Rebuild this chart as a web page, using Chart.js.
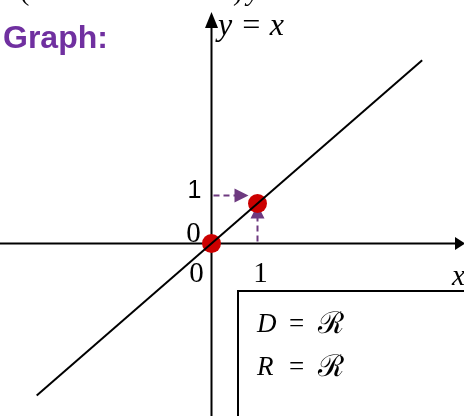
<!DOCTYPE html>
<html>
<head>
<meta charset="utf-8">
<script src="https://cdn.jsdelivr.net/npm/chart.js@4.4.1/dist/chart.umd.min.js"></script>
<style>
html,body{margin:0;padding:0;background:#fff;}
#wrap{width:464px;height:416px;}
</style>
</head>
<body>
<div id="wrap"><canvas id="c" width="464" height="416"></canvas></div>
<script>
// Data
const lineX = [-3.8, 4.58];
const lineY = [-3.8, 4.58];
const pointX = [0, 1];
const pointY = [0, 1];
const xTickValues = [0, 1];
const xTickLabels = ["0", "1"];
const yTickValues = [0, 1];
const yTickLabels = ["0", "1"];
const curveLabel = "y = x";
const boxLines = [["D", "=", "\u211B"], ["R", "=", "\u211B"]];
const titleText = "Graph:";

const SERIF = '"Liberation Serif", "DejaVu Serif", serif';
const SANS = '"Liberation Sans", Arial, sans-serif';
const PURPLE = '#6E3A80';

function arrowHead(ctx, tx, ty, dir, len, half, color) {
  ctx.save();
  ctx.fillStyle = color;
  ctx.beginPath();
  if (dir === 'right') { ctx.moveTo(tx, ty); ctx.lineTo(tx - len, ty - half); ctx.lineTo(tx - len, ty + half); }
  else if (dir === 'up') { ctx.moveTo(tx, ty); ctx.lineTo(tx - half, ty + len); ctx.lineTo(tx + half, ty + len); }
  ctx.closePath();
  ctx.fill();
  ctx.restore();
}

const decor = {
  id: 'decor',
  beforeDatasetsDraw(chart) {
    const ctx = chart.ctx;
    const xs = chart.scales.x, ys = chart.scales.y;
    const ox = xs.getPixelForValue(0), oy = ys.getPixelForValue(0);
    const W = chart.width, H = chart.height;
    ctx.save();
    ctx.strokeStyle = '#000';
    ctx.lineWidth = 2;
    // x axis
    ctx.beginPath(); ctx.moveTo(0, oy); ctx.lineTo(W - 6, oy); ctx.stroke();
    arrowHead(ctx, W + 1, oy, 'right', 10, 6.5, '#000');
    // y axis
    ctx.beginPath(); ctx.moveTo(ox, H); ctx.lineTo(ox, 22); ctx.stroke();
    arrowHead(ctx, ox, 12, 'up', 16, 6.5, '#000');
    // box
    ctx.lineWidth = 2;
    ctx.strokeRect(238, 291, 240, 140);
    // dashed arrows
    const px = xs.getPixelForValue(1), py = ys.getPixelForValue(1);
    ctx.strokeStyle = PURPLE;
    ctx.lineWidth = 2;
    ctx.setLineDash([6, 4]);
    ctx.beginPath(); ctx.moveTo(ox + 2, py - 8); ctx.lineTo(px - 20, py - 8); ctx.stroke();
    ctx.beginPath(); ctx.moveTo(px, oy - 2); ctx.lineTo(px, py + 14); ctx.stroke();
    ctx.setLineDash([]);
    arrowHead(ctx, px - 9, py - 8, 'right', 14, 7, PURPLE);
    arrowHead(ctx, px, py + 1, 'up', 14, 7, PURPLE);
    ctx.restore();
  },
  afterDraw(chart) {
    const ctx = chart.ctx;
    const xs = chart.scales.x, ys = chart.scales.y;
    const ox = xs.getPixelForValue(0), oy = ys.getPixelForValue(0);
    ctx.save();
    ctx.fillStyle = '#000';
    ctx.textAlign = 'center';
    ctx.textBaseline = 'alphabetic';
    // x tick labels
    ctx.font = '29px ' + SERIF;
    xTickValues.forEach((v, i) => {
      const p = xs.getPixelForValue(v);
      ctx.fillText(xTickLabels[i], p + (v === 0 ? -15 : 3), oy + 38);
    });
    // y tick labels
    yTickValues.forEach((v, i) => {
      const p = ys.getPixelForValue(v);
      if (v === 0) { ctx.font = '29px ' + SERIF; ctx.fillText(yTickLabels[i], ox - 18, p - 2); }
      else { ctx.font = '25px ' + SANS; ctx.fillText(yTickLabels[i], ox - 17, p - 6); }
    });
    // axis name x
    ctx.textAlign = 'left';
    ctx.font = 'italic 29px ' + SERIF;
    ctx.fillText('x', 452, 285);
    // curve label
    ctx.font = 'italic 32px ' + SERIF;
    ctx.fillText(curveLabel, 218, 35);
    // box text
    const rows = [332, 375];
    const cols = [257, 289, 318];
    boxLines.forEach((parts, r) => {
      ctx.font = 'italic 27px ' + SERIF;
      ctx.fillText(parts[0], cols[0], rows[r]);
      ctx.font = '27px ' + SERIF;
      ctx.fillText(parts[1], cols[1], rows[r]);
      ctx.font = '30px ' + SERIF;
      ctx.fillText(parts[2], cols[2], rows[r] + 1);
    });
    // title
    ctx.fillStyle = '#7030A0';
    ctx.font = 'bold 32px ' + SANS;
    ctx.fillText(titleText, 3, 48);
    // cut-off text at top edge
    ctx.fillStyle = '#000';
    ctx.font = '28px ' + SERIF;
    ctx.fillText('(', 20, 0);
    ctx.fillText(')', 233, 0);
    ctx.font = 'italic 28px ' + SERIF;
    ctx.fillText('y', 247, 0);
    ctx.restore();
  }
};

const xMin = -211.5 / 46, xMax = (464 - 211.5) / 46;
const yMin = -(416 - 243.5) / 40, yMax = 243.5 / 40;

new Chart(document.getElementById('c'), {
  type: 'scatter',
  data: {
    datasets: [
      {
        label: curveLabel,
        data: lineX.map((x, i) => ({ x: x, y: lineY[i] })),
        showLine: true,
        borderColor: '#000',
        borderWidth: 2,
        pointRadius: 0,
        fill: false
      },
      {
        label: 'points',
        data: pointX.map((x, i) => ({ x: x, y: pointY[i] })),
        showLine: false,
        backgroundColor: '#CC0000',
        borderColor: '#CC0000',
        borderWidth: 0,
        pointRadius: 9.5
      }
    ]
  },
  options: {
    responsive: false,
    animation: false,
    layout: { padding: 0, autoPadding: false },
    plugins: { legend: { display: false }, tooltip: { enabled: false } },
    scales: {
      x: { type: 'linear', min: xMin, max: xMax, display: false },
      y: { type: 'linear', min: yMin, max: yMax, display: false }
    }
  },
  plugins: [decor]
});
</script>
</body>
</html>
